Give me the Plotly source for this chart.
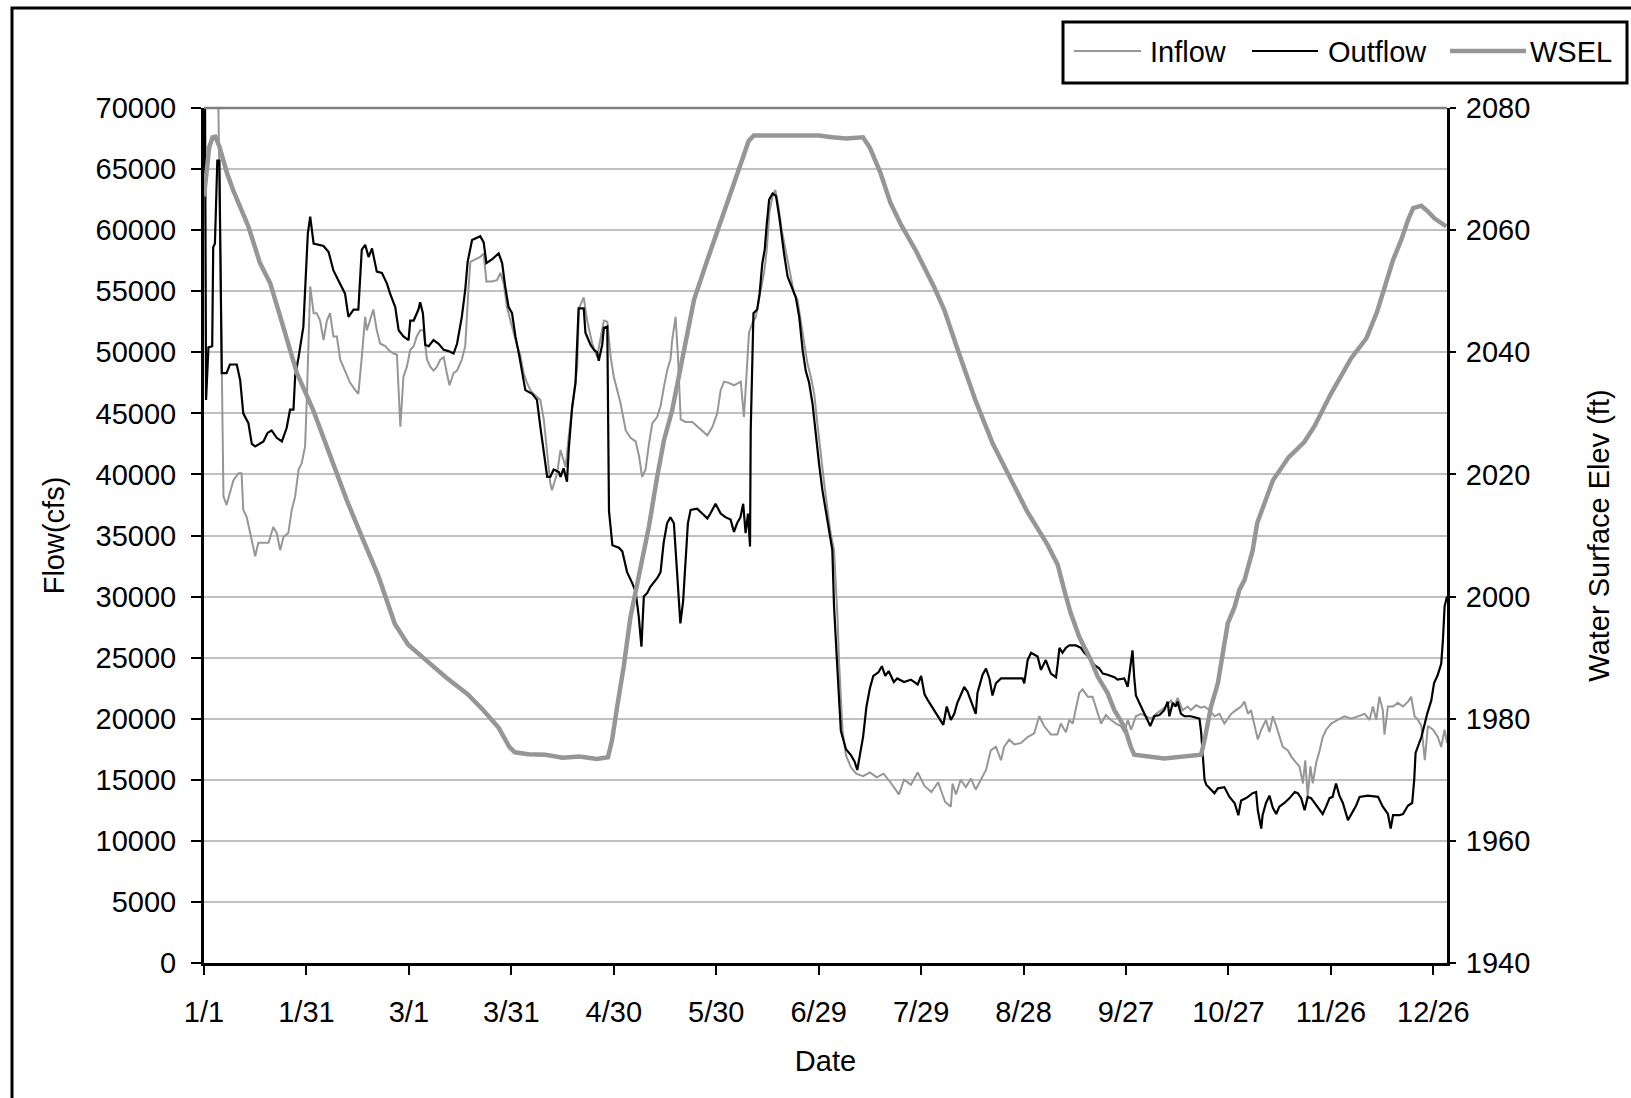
import plotly.graph_objects as go

# ---------------- data (day of year offset from 1/1) ----------------
tick_days = [0, 30, 60, 90, 120, 150, 180, 210, 240, 270, 300, 330, 360]
tick_labels = ["1/1", "1/31", "3/1", "3/31", "4/30", "5/30", "6/29", "7/29",
               "8/28", "9/27", "10/27", "11/26", "12/26"]

flow_ticks = list(range(0, 70001, 5000))
wsel_ticks = list(range(1940, 2081, 20))

outflow_day = [0, 0.3, 0.6, 1.3, 2.4, 2.7, 3.2, 3.9, 4.5, 5.2, 6.6, 7.6, 9.6, 10.6, 11.5, 13, 14, 15,
               17.4, 18.6, 19.8, 21.3, 22.8, 24.2, 25.2, 26.2, 26.7, 27.7, 29.1, 29.6, 30.4, 31.1,
               32.1, 35, 36.5, 37.9, 39.9, 41.3, 42.3, 43.8, 45.2, 45.7, 46.2, 47.2, 48.2, 49.2,
               50.6, 52.1, 53.6, 54.5, 56, 57, 58.4, 59.9, 60.4, 61.4, 62.8, 63.3, 64.1, 64.8,
               65.8, 67.2, 68.7, 70.2, 71.6, 73.1, 74.1, 75.5, 76.5, 77.2, 78.5, 80.9, 81.9, 82.7,
               84.3, 86.3, 87.3, 88.2, 89.2, 90.2, 91.2, 92.2, 93.1, 94.1, 96.1, 97.5, 98.5, 99.5,
               100.5, 101.4, 102.4, 103.9, 104.4, 105.3, 106.3, 106.8, 107.8, 108.8, 109.3, 109.7,
               111.2, 111.7, 113.2, 114.2, 115.1, 115.6, 116.6, 117.1, 118.1, 118.3, 118.6, 119.6,
               121.5, 122.5, 123.9, 125.4, 126.4, 127.3, 128.1, 128.8, 129.8, 130.7, 132.7, 133.7,
               134.6, 135.6, 136.6, 137.6, 138.6, 139.5, 140.3, 141, 141.7, 142.5, 144.4, 145.9,
               147.4, 148.3, 149.8, 151.3, 152.7, 154.2, 155.2, 156.1, 157.1, 157.9, 158.6, 159.3,
               159.9, 160.1, 160.9, 162, 162.7, 163.5, 164.2, 164.8, 165.5, 166.5, 167.5, 168.5,
               169.3, 169.9, 170.9, 171.8, 173.3, 174.3, 175.3, 176.2, 177.2, 178.2, 179.2, 180.1,
               181.1, 182.1, 183, 184, 184.5, 185, 185.5, 186.5, 188, 189.5, 190.5, 191.3, 192, 193,
               194, 195, 196, 197.5, 198.5, 199.5, 200.5, 202, 203, 205, 207, 209, 210, 211, 212,
               213.5, 215, 216.5, 217.5, 218.7, 219.7, 220.6, 221.4, 222.6, 223.6, 224.6, 226,
               226.5, 228, 229, 230, 230.9, 231.9, 233.4, 236.3, 239.7, 240.2, 241.2, 242.2, 244.1,
               245.1, 246.5, 248, 249.5, 250, 250.5, 251.4, 252.4, 253.4, 255.3, 256.8, 257.8,
               259.3, 260.7, 262.2, 263.2, 264.6, 266.6, 267.5, 269.5, 270.5, 271.4, 271.9, 272.4,
               272.9, 274.4, 275.4, 276.4, 277.1, 278.3, 279.8, 281.2, 282.2, 282.7, 283.7, 284.6,
               285.1, 286.1, 287.1, 289, 291.5, 292, 292.5, 293, 293.5, 294.9, 295.9, 296.9, 298.8,
               300.3, 301.8, 302.9, 303.7, 305.2, 307.1, 308.1, 308.6, 309.6, 310, 311, 312, 313,
               314, 314.9, 316.4, 317.9, 319.4, 320.3, 321.3, 322.3, 323.2, 324.2, 325.2, 326.2,
               327.6, 328.6, 329.6, 330.5, 331.5, 332.5, 333.5, 335, 335.9, 337.4, 338.4, 340.8,
               343.8, 345.2, 346.7, 347.5, 348.2, 350.1, 351.1, 352.6, 353.8, 354.4, 354.8, 355.5,
               356.5, 357.5, 358.2, 359.4, 360.2, 361.3, 362.3, 362.8, 363.3, 364]
outflow_cfs = [63500, 71000, 46100, 50400, 50500, 58600, 58900, 65700, 65700, 48300, 48300, 49000,
               49000, 47700, 45000, 44200, 42500, 42300, 42700, 43400, 43600, 43000, 42700, 43800,
               45300, 45300, 48100, 49600, 52100, 55400, 59700, 61100, 58900, 58700, 58200, 56700,
               55600, 54800, 52900, 53500, 53500, 55900, 58400, 58800, 57800, 58500, 56600, 56500,
               55600, 54800, 53700, 51800, 51300, 51000, 52600, 52600, 53500, 54100, 53200, 50600,
               50500, 51000, 50700, 50200, 50100, 49900, 50700, 52900, 55100, 57400, 59200, 59500,
               59000, 57300, 57600, 58100, 57300, 55400, 53700, 53200, 51300, 49900, 48300, 46900,
               46600, 46100, 43900, 42000, 39800, 39800, 40400, 40200, 39800, 40500, 39400, 42000,
               45500, 47500, 51000, 53600, 53600, 51600, 50600, 50200, 50000, 49300, 50600, 52000,
               52100, 45800, 37000, 34200, 34000, 33700, 32000, 31100, 30400, 28400, 25900, 30000,
               30300, 30800, 31500, 32000, 34400, 36000, 36500, 36000, 31500, 27800, 29600, 33000,
               36000, 37100, 37200, 36800, 36400, 36800, 37600, 36800, 36500, 36300, 35300, 36000,
               36500, 37600, 35200, 36800, 34100, 43600, 53200, 53500, 54800, 57300, 58400, 60500,
               62500, 63000, 62800, 61000, 59000, 58000, 56200, 55600, 54500, 52900, 50200, 48500,
               47500, 45800, 43100, 40900, 38700, 37100, 35400, 33800, 29200, 26200, 24000, 19000,
               17500, 17000, 16500, 15800, 17000, 18500, 21000, 22500, 23500, 23800, 24300, 23500,
               23900, 23000, 23300, 23000, 23200, 22800, 23500, 22000, 21500, 20800, 20200, 19500,
               21000, 19900, 20400, 21300, 21800, 22600, 22200, 21500, 20400, 22100, 23600, 24100,
               23300, 21900, 22900, 23300, 23300, 23300, 22900, 24800, 25400, 25100, 24000, 24800,
               23700, 23400, 24500, 25800, 25400, 25800, 26000, 26000, 25800, 25400, 25000, 24400,
               24100, 23700, 23600, 23400, 23200, 23300, 22600, 24500, 25600, 23400, 21900, 21000,
               20400, 19900, 19400, 20200, 20300, 20700, 21400, 20200, 21300, 21000, 21400, 20400,
               20200, 20200, 20000, 18900, 16600, 15000, 14600, 14200, 13900, 14300, 14400, 13600,
               13100, 12100, 13300, 13500, 13900, 14000, 12500, 11000, 12100, 13100, 13700, 12700,
               12200, 12800, 13100, 13500, 14000, 13900, 13500, 12500, 13600, 13500, 13100, 12800,
               12200, 12800, 13500, 13600, 14700, 13700, 13100, 11700, 12200, 12900, 13600, 13700,
               13600, 12800, 12200, 11000, 12100, 12100, 12200, 12900, 13100, 15000, 17200, 17700,
               18500, 19600, 20400, 21500, 22900, 23600, 24500, 26400, 29200, 30000]

inflow_day = [0, 0.3, 2, 4, 4.2, 4.6, 5.2, 5.7, 6.6, 7.6, 8.6, 10.1, 11, 11.5, 12.5, 14, 15, 15.9,
              18.9, 20.3, 21.3, 22.3, 23.3, 24.7, 25.7, 26.7, 27.7, 28.6, 29.6, 30.1, 30.6, 31.1,
              32.1, 33, 34, 35, 36, 36.9, 37.9, 38.9, 39.9, 41.3, 42.8, 44.3, 45.2, 46.2, 47.2,
              47.7, 48.7, 49.6, 50.6, 51.6, 53.1, 54, 55.5, 56.5, 57.5, 58.4, 59.4, 60.4, 61.4,
              62.3, 63.3, 64.3, 65.3, 66.3, 67.2, 68.2, 69.2, 70.2, 71.1, 71.9, 73.1, 74.1, 75.5,
              76.5, 77.5, 78, 79.4, 80.9, 81.9, 82.7, 84.3, 85.8, 86.8, 87.8, 88.7, 90.7, 91.7,
              92.6, 93.6, 94.6, 95.6, 96.5, 98.5, 99.5, 100.5, 101.4, 101.9, 103.4, 104.4, 105.3,
              105.9, 106.8, 108.3, 109.3, 109.8, 111.2, 112.2, 113.7, 115.1, 117.1, 118.1, 119.1,
              120, 122, 123.5, 124.9, 126.4, 127.4, 128.3, 129.3, 130.3, 131.3, 132.7, 133.7,
              134.7, 135.7, 136.6, 137.1, 138.1, 138.8, 139.6, 141, 143, 144.5, 146, 147.4, 148.9,
              150.3, 151.3, 152.3, 153.7, 155.2, 157.2, 157.6, 158.1, 158.6, 159.1, 159.6, 160.6,
              161.6, 162.5, 164, 164.8, 165.6, 166.5, 167.3, 168.2, 169.2, 170.3, 171.8, 172.8,
              173.8, 174.7, 175.7, 176.7, 177.7, 178.7, 179.6, 180.6, 181.6, 182.6, 183.5, 184.5,
              185.5, 186, 187, 188, 189.5, 191, 193, 195, 197, 199, 201, 203.5, 205, 207, 209,
              211, 213, 215, 217, 218.7, 219.2, 220.2, 221.6, 223.1, 224.6, 226, 227.5, 229,
              230.4, 231.9, 233.4, 234.3, 235.8, 237.3, 239.2, 241.2, 243.1, 244.6, 246, 248,
              249.9, 250.9, 252.4, 253.4, 254.4, 255.3, 256.3, 257.3, 258.8, 260.2, 261.7, 262.7,
              264.1, 265.6, 267.1, 268.5, 269.5, 270.5, 271.5, 272.9, 274.4, 275.9, 277.3, 278.8,
              280.3, 281.7, 283.2, 284.2, 285.1, 286.6, 288.1, 289, 290.5, 292, 293, 294.4, 295.9,
              297.4, 298.8, 300.8, 302.2, 303.7, 304.7, 305.7, 306.6, 307.6, 308.6, 309.6, 311,
              312, 313, 314, 314.9, 315.9, 317.4, 318.4, 319.8, 320.8, 321.8, 322.5, 323.2, 324,
              324.7, 325.7, 326.7, 327.6, 328.6, 330.1, 332, 334, 336, 337.9, 339.9, 341.3, 342.3,
              343.3, 344.2, 345.2, 345.7, 346.7, 348.2, 349.6, 351.1, 352.6, 353.5, 354.5, 355.5,
              356.5, 357.5, 358.4, 359.9, 361.3, 362.3, 363.3, 364]
inflow_cfs = [62700, 72000, 75000, 72000, 70500, 61900, 44500, 38200, 37500, 38500, 39500, 40100,
              40100, 37100, 36500, 34600, 33300, 34400, 34400, 35700, 35200, 33800, 34900, 35200,
              37100, 38200, 40400, 40900, 42300, 46100, 50500, 55400, 53200, 53200, 52600, 51000,
              52600, 53200, 51300, 51300, 49400, 48500, 47500, 46900, 46600, 49600, 52900, 51800,
              52600, 53500, 51800, 50700, 50500, 50200, 49900, 49800, 43900, 48000, 48800, 50200,
              50500, 51300, 51800, 51800, 49400, 48800, 48500, 48800, 49400, 49600, 48300, 47300,
              48300, 48500, 49400, 50500, 55400, 57400, 57600, 57800, 58100, 55800, 55800, 55900,
              56500, 55600, 53700, 51600, 50500, 49800, 48300, 47500, 46900, 46600, 46100, 44500,
              41700, 39300, 38700, 40100, 42000, 41200, 40600, 43100, 46600, 48800, 53600, 54500,
              52600, 50700, 49600, 52600, 52500, 49600, 48000, 45800, 43600, 43000, 42700, 41500,
              39800, 40400, 42500, 44200, 44700, 45600, 47200, 48600, 49400, 51000, 52900, 49600,
              44500, 44300, 44300, 43900, 43500, 43200, 43900, 45000, 46900, 47600, 47500, 47300,
              47600, 46100, 44700, 46900, 49400, 51600, 52400, 52900, 54300, 56500, 58400, 61500,
              62800, 63300, 62000, 60000, 58400, 56200, 54800, 54300, 52600, 51000, 49100, 48000,
              46600, 44200, 41500, 39300, 37100, 35200, 33800, 28400, 24500, 19000, 17000, 16000,
              15500, 15300, 15600, 15200, 15500, 14800, 13800, 15000, 14600, 15600, 14500, 14000,
              14800, 13200, 12800, 14700, 13800, 15000, 14400, 15100, 14200, 15000, 15800, 17400,
              17700, 16600, 17700, 18300, 17900, 18000, 18500, 18800, 20200, 19400, 18700, 18700,
              19600, 18900, 19900, 19600, 20700, 22100, 22400, 21800, 21800, 20400, 19600, 20300,
              19900, 19600, 19400, 18900, 19900, 19100, 20200, 20400, 20200, 20000, 20400, 20700,
              21000, 21500, 21000, 21700, 20700, 21000, 20700, 21100, 20900, 21000, 20700, 20200,
              20400, 19600, 20400, 20700, 21000, 21400, 20400, 20700, 19400, 18300, 19100, 19900,
              18900, 20200, 19400, 18500, 17700, 17400, 16900, 16400, 16100, 14700, 16600, 13600,
              16100, 14700, 16400, 17400, 18500, 19100, 19600, 19900, 20200, 20000, 20200, 20400,
              19900, 21000, 19900, 21800, 20700, 18700, 21000, 21000, 21300, 21000, 21400, 21800,
              20200, 19900, 19400, 16600, 19400, 19100, 18500, 17700, 19100, 18000]

wsel_day = [0, 0.7, 1.5, 2.5, 3.3, 4.5, 6.7, 8.5, 10.5, 13, 16.4, 19.4, 22.5, 27.2, 32, 36.9, 41.8,
            46.2, 51.1, 55.9, 59.8, 65, 71, 77.2, 81.8, 86.3, 89.4, 91, 95, 100, 105, 110, 115,
            118.3, 119.5, 121, 122.9, 124.9, 127.8, 130.3, 132.7, 134.7, 137.1, 140, 143.5, 147.4,
            150.5, 153.5, 156.5, 159.5, 161, 170, 180, 184, 188, 193, 195, 198, 201, 204, 208.4,
            213.8, 216.8, 221.1, 226, 231, 236, 241, 247, 250, 251.9, 253.8, 256.3, 259.7, 261.7,
            264.6, 266.6, 269.5, 271.4, 272.4, 281.2, 292, 293, 294.9, 296.9, 298.3, 299.8, 301.8,
            303.2, 304.7, 307.1, 308.4, 313, 317.6, 322.2, 325.2, 329.8, 335.9, 340.4, 343.5,
            348.2, 350.6, 352.6, 354.1, 356.5, 358.5, 360.4, 363.8]
wsel_ft = [2065.5, 2070, 2073.5, 2075.2, 2075.3, 2073.7, 2069.4, 2066.6, 2063.8, 2060.6, 2054.6,
           2051.3, 2045.5, 2036.6, 2030.5, 2022.9, 2015.8, 2009.8, 2003.3, 1995.5, 1992.1, 1989.6,
           1986.7, 1984, 1981.4, 1978.5, 1975.4, 1974.5, 1974.2, 1974.1, 1973.6, 1973.8, 1973.4,
           1973.7, 1976.5, 1982, 1988.5, 1996.7, 2004.9, 2011.5, 2019.6, 2025.6, 2030.5, 2038.5,
           2048.6, 2055.1, 2060, 2065, 2070, 2074.6, 2075.5, 2075.5, 2075.5, 2075.2, 2075.0,
           2075.2, 2073.5, 2069.5, 2064.5, 2061, 2056.7, 2050.7, 2046.9, 2039.8, 2032, 2025,
           2019.5, 2014, 2008.5, 2005.2, 2001.1, 1997.3, 1993.4, 1989.6, 1986.9, 1984.2, 1981.4,
           1978.7, 1975.4, 1974.1, 1973.5, 1974.1, 1976.5, 1982, 1985.8, 1990.7, 1995.6, 1998.3,
           2001.1, 2002.7, 2007.6, 2012, 2019, 2022.8, 2025.3, 2027.9, 2033, 2039, 2042.3, 2046.6,
           2055.1, 2058.4, 2061.7, 2063.6, 2064, 2063, 2061.9, 2060.6]

# ---------------- figure ----------------
W, H = 1631, 1098
L, R, T, B = 204, 1447, 108, 963          # plot area in pixels
FONT = "Arial, 'Liberation Sans', sans-serif"
GRAY = "#969696"


def px(xp):
    return (xp - L) / (R - L)


def py(yp):
    return (B - yp) / (B - T)


fig = go.Figure()
fig.add_trace(go.Scatter(x=inflow_day, y=inflow_cfs, name="Inflow", mode="lines",
                         line=dict(color=GRAY, width=2), showlegend=False))
fig.add_trace(go.Scatter(x=outflow_day, y=outflow_cfs, name="Outflow", mode="lines",
                         line=dict(color="#000000", width=2.2), showlegend=False))
fig.add_trace(go.Scatter(x=wsel_day, y=wsel_ft, name="WSEL", mode="lines", yaxis="y2",
                         line=dict(color=GRAY, width=4.5), showlegend=False))

axis_common = dict(showline=True, linecolor="#000000", linewidth=3, ticks="outside",
                   tickcolor="#000000", tickwidth=2, zeroline=False,
                   tickfont=dict(family=FONT, size=29, color="#000000"))

fig.update_layout(
    width=W, height=H,
    margin=dict(l=L, r=W - R, t=T, b=H - B, autoexpand=False),
    paper_bgcolor="white", plot_bgcolor="white",
    font=dict(family=FONT, size=29, color="#000000"),
    xaxis=dict(range=[0, 364], tickmode="array", tickvals=tick_days, ticktext=tick_labels,
               showgrid=False, ticklen=9, ticklabelstandoff=12,
               title=dict(text="Date", font=dict(family=FONT, size=29), standoff=24),
               **axis_common),
    yaxis=dict(range=[0, 70000], tickmode="array", tickvals=flow_ticks,
               ticktext=[str(v) for v in flow_ticks],
               showgrid=True, gridcolor="#c0c0c0", gridwidth=2, ticklen=10, ticklabelstandoff=9,
               title=dict(text="Flow(cfs)", font=dict(family=FONT, size=29), standoff=23),
               **axis_common),
    yaxis2=dict(range=[1940, 2080], tickmode="array", tickvals=wsel_ticks,
                ticktext=[str(v) for v in wsel_ticks], overlaying="y", side="right",
                showgrid=False, ticklen=6, ticklabelstandoff=4,
                title=dict(text="Water Surface Elev (ft)", font=dict(family=FONT, size=29),
                           standoff=60),
                **axis_common),
    showlegend=False,
)

shapes = []
# outer chart border (left / top visible)
shapes.append(dict(type="rect", xref="paper", yref="paper", x0=px(12), x1=px(1700),
                   y0=py(1150), y1=py(8), line=dict(color="#000000", width=3), layer="below"))
# darker plot-area top edge
shapes.append(dict(type="line", xref="paper", yref="paper", x0=0, x1=1, y0=1, y1=1,
                   line=dict(color="#808080", width=2.5)))
# legend box
shapes.append(dict(type="rect", xref="paper", yref="paper", x0=px(1063), x1=px(1627),
                   y0=py(83), y1=py(22), line=dict(color="#000000", width=3),
                   fillcolor="white"))
legend_items = [("Inflow", 1074, 1141, 1148, GRAY, 2),
                ("Outflow", 1252, 1318, 1326, "#000000", 2.2),
                ("WSEL", 1450, 1526, 1528, GRAY, 4.5)]
annotations = []
for name, lx0, lx1, tx, col, w in legend_items:
    shapes.append(dict(type="line", xref="paper", yref="paper", x0=px(lx0), x1=px(lx1),
                       y0=py(51), y1=py(51), line=dict(color=col, width=w)))
    annotations.append(dict(xref="paper", yref="paper", x=px(tx), y=py(52), text=name,
                            showarrow=False, xanchor="left", yanchor="middle",
                            font=dict(family=FONT, size=29, color="#000000")))

fig.update_layout(shapes=shapes, annotations=annotations)
fig.write_html("out.html",
               config={"displayModeBar": False},
               post_script="document.body.style.margin='0px';"
                           "document.body.style.overflow='hidden';")
